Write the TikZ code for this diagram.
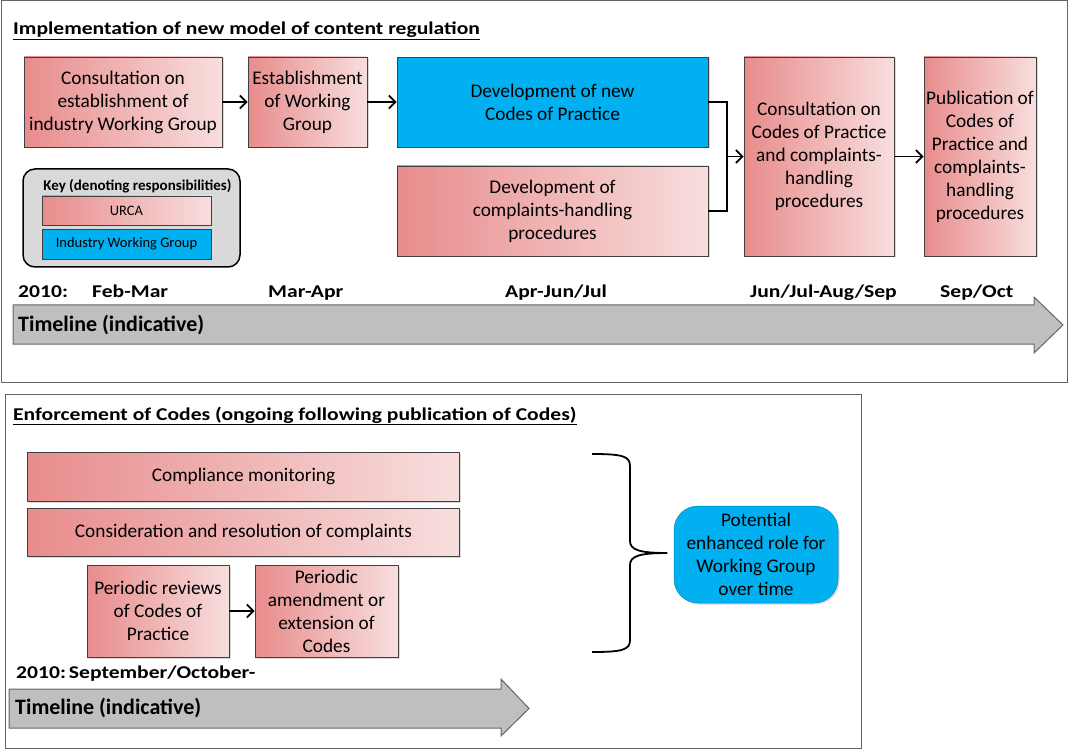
\documentclass[tikz,border=0pt]{standalone}
\usepackage{fontspec}
\setmainfont{Carlito}
\newfontfamily\widefont[FakeStretch=1.2]{Carlito}
\usetikzlibrary{arrows.meta,shadows}
\definecolor{pinkL}{RGB}{232,140,140}
\definecolor{pinkR}{RGB}{248,222,222}
\definecolor{wgblue}{RGB}{0,176,240}
\definecolor{framegray}{RGB}{100,100,100}
\definecolor{boxline}{RGB}{64,64,64}
\definecolor{tlgray}{RGB}{191,191,191}
\tikzset{
  base/.style={draw=boxline, line width=0.9pt, align=center, inner sep=0pt,
    font=\fontsize{19.3}{23}\selectfont,
    drop shadow={shadow xshift=1.5pt, shadow yshift=-1.5pt, opacity=0.3}},
  urca/.style={base, left color=pinkL, right color=pinkR},
  iwg/.style={base, fill=wgblue},
  keybox/.style={draw=boxline, line width=0.8pt, inner sep=0pt, font=\fontsize{14.5}{17}\selectfont},
  flow/.style={line width=1.9pt, -{Straight Barb[length=6.5pt,width=13pt,line width=1.7pt]}},
  elbowline/.style={line width=1.9pt},
  frame/.style={draw=framegray, line width=1pt},
  tlarrow/.style={draw=boxline!80, line width=1pt, fill=tlgray},
  tllabel/.style={font=\widefont\fontsize{18}{21}\selectfont\bfseries, inner sep=0pt},
  tlname/.style={font=\fontsize{22}{24}\selectfont\bfseries, inner sep=0pt},
  title/.style={font=\widefont\fontsize{18}{22}\selectfont\bfseries, inner sep=0pt, anchor=base west}
}
\begin{document}
\begin{tikzpicture}[x=1pt,y=-1pt]
\useasboundingbox (0,0) rectangle (1068,751);
% frames
\draw[frame] (1,1) rectangle (1067,382);
\draw[frame] (5,394) rectangle (861,748);
% titles
\node[title] (t1) at (13,35) {\underline{Implementation of new model of content regulation}};
\node[title] (t2) at (13,420) {\underline{Enforcement of Codes (ongoing following publication of Codes)}};
% top flow boxes
\node[urca, minimum width=198pt, minimum height=90pt] (A) at (123,102) {Consultation on\\establishment of\\industry Working Group};
\node[urca, minimum width=119pt, minimum height=90pt] (B) at (307.5,102) {Establishment\\of Working\\Group};
\node[iwg, minimum width=311pt, minimum height=90pt] (C) at (552.5,102) {Development of new\\Codes of Practice};
\node[urca, minimum width=311pt, minimum height=90pt] (D) at (552.5,211) {Development of\\complaints-handling\\procedures};
\node[urca, minimum width=150pt, minimum height=199pt] (E) at (819,156.5) {Consultation on\\Codes of Practice\\and complaints-\\handling\\procedures};
\node[urca, minimum width=112pt, minimum height=199pt] (F) at (980,156.5) {Publication of\\Codes of\\Practice and\\complaints-\\handling\\procedures};
\coordinate (j) at (727,156.5);
\draw[flow] (A) -- (B);
\draw[flow] (B) -- (C);
\draw[elbowline] (C.east) -| (j) |- (D.east);
\draw[flow] (j) -- (E.west);
\draw[flow] (E) -- (F);
% key
\node[draw=black, line width=1.5pt, fill=black!15, rounded corners=12pt, minimum width=217pt, minimum height=98pt] (key) at (131.5,218) {};
\node[font=\fontsize{15}{17}\selectfont\bfseries, inner sep=0pt] (keyt) at (137.5,186) {Key (denoting responsibilities)};
\node[keybox, left color=pinkL, right color=pinkR, minimum width=169pt, minimum height=29pt] (k1) at (126.5,210.5) {URCA};
\node[keybox, fill=wgblue, minimum width=169pt, minimum height=30pt] (k2) at (126.5,244) {Industry Working Group};
% top timeline
\draw[tlarrow] (13,305) -- (1034,305) -- (1034,297) -- (1063,325) -- (1034,353) -- (1034,344) -- (13,344) -- cycle;
\node[tllabel, anchor=base west] (y1) at (18,298) {2010:};
\node[tllabel, anchor=base west] (m1) at (92,298) {Feb-Mar};
\node[tllabel, anchor=base west] (m2) at (268,298) {Mar-Apr};
\node[tllabel, anchor=base west] (m3) at (505,298) {Apr-Jun/Jul};
\node[tllabel, anchor=base west] (m4) at (750,298) {Jun/Jul-Aug/Sep};
\node[tllabel, anchor=base west] (m5) at (940,298) {Sep/Oct};
\node[tlname, anchor=west] (tl1) at (18,325) {Timeline (indicative)};
% bottom boxes
\node[urca, minimum width=432pt, minimum height=49pt] (G) at (243.5,476.5) {Compliance monitoring};
\node[urca, minimum width=432pt, minimum height=48pt] (H) at (243.5,532) {Consideration and resolution of complaints};
\node[urca, minimum width=142pt, minimum height=92pt] (I) at (158,611) {Periodic reviews\\of Codes of\\Practice};
\node[urca, minimum width=143pt, minimum height=92pt] (J) at (326.5,611) {Periodic\\amendment or\\extension of\\Codes};
\draw[flow] (I) -- (J);
% brace
\coordinate (bt) at (592,454);
\coordinate (bb) at (592,652);
\coordinate (btip) at (667,553);
\draw[line width=1.8pt] (bt) .. controls (622,454) and (630,456) .. (630,466)
  -- (630,541) .. controls (630,550) and (640,553) .. (btip);
\draw[line width=1.8pt] (bb) .. controls (622,652) and (630,650) .. (630,640)
  -- (630,565) .. controls (630,556) and (640,553) .. (btip);
\node[base, draw=wgblue!80!black, line width=0.5pt, fill=wgblue, rounded corners=24pt, minimum width=164pt, minimum height=97pt] (K) at (756,554.5) {Potential\\enhanced role for\\Working Group\\over time};
% bottom timeline
\draw[tlarrow] (9,689) -- (501,689) -- (501,679) -- (529,708.5) -- (501,736) -- (501,728) -- (9,728) -- cycle;
\node[tllabel, anchor=base west] (y2) at (16,678) {2010:\,September/October-};
\node[tlname, anchor=west] (tl2) at (15,708) {Timeline (indicative)};
\end{tikzpicture}
\end{document}
